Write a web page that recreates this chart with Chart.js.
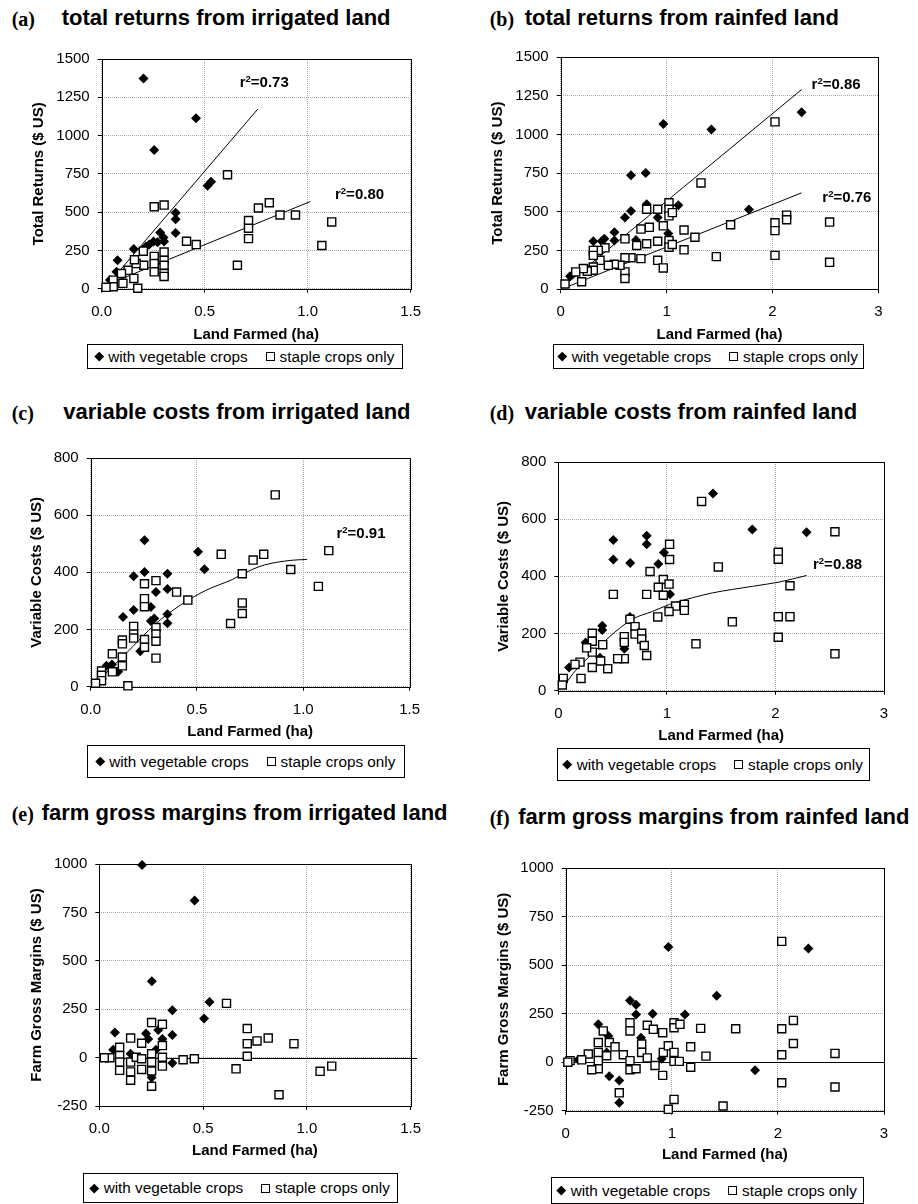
<!DOCTYPE html>
<html>
<head>
<meta charset="utf-8">
<script src="https://cdn.jsdelivr.net/npm/chart.js@4.4.1/dist/chart.umd.min.js"></script>
<style>
html,body{margin:0;padding:0;background:#fff;}
body{width:918px;height:1204px;position:relative;overflow:hidden;font-family:"Liberation Sans",Arial,sans-serif;color:#000;}
.pl{position:absolute;font-family:"Liberation Serif","Times New Roman",serif;font-weight:bold;font-size:20px;line-height:20px;white-space:nowrap;}
.pt{position:absolute;font-family:"Liberation Sans",Arial,sans-serif;font-weight:bold;font-size:22px;line-height:22px;white-space:nowrap;}
canvas{position:absolute;}
.lg{position:absolute;border:1px solid #000;box-sizing:border-box;display:flex;align-items:center;justify-content:center;font-size:15.3px;white-space:nowrap;background:#fff;}
.lg .it{display:flex;align-items:center;}
.lg .it + .it{margin-left:18px;}
.dm{display:inline-block;width:6.5px;height:6.5px;background:#000;transform:rotate(45deg);margin-right:6px;}
.sq{display:inline-block;width:9px;height:9px;border:1.3px solid #000;box-sizing:border-box;background:#fff;margin-right:5px;}
</style>
</head>
<body>
<script>
// ---------------- DATA ----------------
const seriesNames = ['with vegetable crops', 'staple crops only'];

// tick values / labels
const xTicksIrrigated = [0, 0.5, 1, 1.5];
const xLabelsIrrigated = ['0.0', '0.5', '1.0', '1.5'];
const xTicksRainfed = [0, 1, 2, 3];
const xLabelsRainfed = ['0', '1', '2', '3'];
const yTicksReturns = [0, 250, 500, 750, 1000, 1250, 1500];
const yLabelsReturns = ['0', '250', '500', '750', '1000', '1250', '1500'];
const yTicksCosts = [0, 200, 400, 600, 800];
const yLabelsCosts = ['0', '200', '400', '600', '800'];
const yTicksMargins = [-250, 0, 250, 500, 750, 1000];
const yLabelsMargins = ['-250', '0', '250', '500', '750', '1000'];

// (a) total returns, irrigated
const vegA_x = [0.203,0.458,0.255,0.514,0.531,0.359,0.359,0.359,0.284,0.300,0.303,0.271,0.252,0.231,0.215,0.156,0.077,0.072,0.040];
const vegA_y = [1373,1113,905,673,698,496,454,363,367,335,309,303,309,288,275,260,185,110,56];
const stapleA_x = [0.611,0.255,0.303,0.814,0.761,0.866,0.941,1.117,0.713,0.713,0.713,0.412,0.459,1.069,0.659,0.202,0.303,0.255,0.303,0.255,0.303,0.255,0.303,0.303,0.204,0.167,0.159,0.128,0.096,0.156,0.103,0.056,0.056,0.021,0.175];
const stapleA_y = [744,535,546,561,527,481,481,436,445,395,327,310,288,282,153,245,239,211,185,164,153,110,99,80,153,164,189,120,99,67,35,56,13,9,3];
const trendVegA_x = [0.048, 0.758];
const trendVegA_y = [56, 1173];
const trendStapleA_x = [0.04, 1.013];
const trendStapleA_y = [34, 569];
const r2A = [{text:'0.73', x:0.670, y:1320}, {text:'0.80', x:1.133, y:587}];

// (b) total returns, rainfed
const vegB_x = [0.970,1.423,2.276,0.664,0.803,1.778,1.111,0.812,0.664,0.607,0.916,1.016,0.507,0.507,0.412,0.387,0.308,0.711,0.088];
const vegB_y = [1068,1032,1143,736,751,515,543,549,506,463,463,361,368,315,326,310,310,319,85];
const stapleB_x = [2.024,1.325,1.023,1.023,1.023,1.055,0.812,0.916,0.969,0.837,0.758,1.165,1.268,0.607,0.718,0.812,0.916,1.023,1.023,1.054,1.165,0.758,0.916,0.969,0.664,0.607,0.607,0.607,0.560,0.507,0.450,0.371,0.418,0.355,0.308,0.308,0.308,0.308,0.251,0.214,0.142,0.198,0.041,1.605,1.470,2.024,2.024,2.024,2.134,2.134,2.540,2.540];
const stapleB_y = [1081,687,559,517,474,495,517,517,410,400,389,383,336,326,283,294,310,315,272,289,255,198,187,138,204,204,112,70,155,162,155,187,268,251,251,219,144,123,117,134,112,49,34,417,211,430,379,219,479,449,434,174];
const trendVegB_x = [0.079, 2.276];
const trendVegB_y = [49, 1290];
const trendStapleB_x = [0.079, 2.276];
const trendStapleB_y = [21, 623];
const r2B = [{text:'0.86', x:2.370, y:1294}, {text:'0.76', x:2.471, y:566}];

// (c) variable costs, irrigated
const vegC_x = [0.253,0.505,0.535,0.253,0.202,0.361,0.307,0.361,0.361,0.361,0.202,0.283,0.299,0.283,0.152,0.233,0.074,0.129,0.100];
const vegC_y = [512,472,411,401,386,395,331,342,253,222,268,279,239,230,244,124,73,52,78];
const stapleC_x = [0.868,1.120,0.614,0.814,0.764,0.941,0.713,1.071,0.253,0.307,0.404,0.457,0.253,0.253,0.713,0.713,0.658,0.202,0.202,0.202,0.307,0.307,0.307,0.307,0.253,0.253,0.149,0.149,0.149,0.149,0.102,0.102,0.051,0.051,0.051,0.023,0.175];
const stapleC_y = [671,476,463,463,443,410,395,351,360,371,331,303,308,280,293,256,221,211,184,170,207,184,159,100,165,138,163,150,104,73,115,52,55,40,21,12,3];
const curveC_x = [0.04,0.167,0.307,0.415,0.539,0.663,0.756,0.818,0.942,1.017];
const curveC_y = [25,117,221,282,336,374,409,426,442,445];
const r2C = [{text:'0.91', x:1.156, y:521}];

// (d) variable costs, rainfed
const vegD_x = [1.425,1.787,2.287,0.507,0.814,0.814,0.507,0.663,0.921,0.973,1.029,0.660,0.405,0.405,0.608,0.384,0.252,0.099];
const vegD_y = [690,564,554,527,542,512,459,447,443,483,337,258,227,212,147,115,169,81];
const stapleD_x = [1.320,2.548,1.025,1.025,2.026,2.026,1.474,0.845,0.967,1.020,0.921,0.967,0.507,0.814,2.134,1.081,1.161,1.161,1.020,0.916,0.660,2.026,2.134,1.603,2.026,2.548,1.268,0.707,0.707,0.768,0.768,0.792,0.814,0.608,0.608,0.608,0.547,0.455,0.409,0.313,0.313,0.313,0.261,0.313,0.390,0.200,0.154,0.209,0.046,0.037];
const stapleD_y = [662,556,512,459,484,460,433,417,389,373,362,334,337,337,367,296,302,281,277,258,250,259,259,241,187,129,164,224,198,201,181,158,123,189,169,112,112,77,161,201,173,135,150,81,104,100,92,43,43,20];
const curveD_x = [0.068,0.16,0.313,0.467,0.682,0.866,1.025,1.234,1.418,1.787,2.033,2.287];
const curveD_y = [25,71,129,187,250,277,302,325,342,365,380,403];
const r2D = [{text:'0.88', x:2.346, y:426}];

// (e) farm gross margins, irrigated
const vegE_x = [0.206,0.459,0.253,0.531,0.505,0.352,0.352,0.075,0.225,0.236,0.284,0.304,0.273,0.067,0.151,0.352,0.252];
const vegE_y = [995,811,395,287,202,245,117,130,125,96,142,96,40,40,20,-28,-103];
const stapleE_x = [0.613,0.713,0.713,0.713,0.760,0.814,0.938,0.659,0.866,1.064,1.120,0.252,0.304,0.151,0.204,0.304,0.098,0.098,0.098,0.098,0.051,0.024,0.151,0.151,0.151,0.178,0.204,0.204,0.252,0.252,0.252,0.252,0.304,0.304,0.404,0.458];
const stapleE_y = [280,150,72,7,86,101,72,-58,-192,-71,-44,181,172,101,74,62,53,11,-23,-66,-1,-1,-23,-74,-117,2,-6,-61,20,-23,-69,-148,2,-44,-11,-6];

// (f) farm gross margins, rainfed
const vegF_x = [0.968,2.287,1.423,1.785,0.606,0.663,0.663,0.820,1.124,0.307,0.402,0.710,0.386,0.119,0.905,0.411,0.505,0.505];
const vegF_y = [593,585,342,-42,317,296,245,249,245,195,135,126,50,12,17,-73,-94,-209];
const stapleF_x = [2.036,2.146,2.036,2.146,2.036,2.036,2.538,2.538,1.602,1.483,0.606,0.606,0.769,0.826,0.914,1.021,1.021,1.077,1.272,0.354,0.307,0.411,0.465,0.307,0.386,0.213,0.151,0.041,0.307,0.307,0.245,0.543,0.606,0.606,0.663,0.716,0.716,0.769,0.842,0.920,0.967,1.021,1.021,1.071,0.914,1.178,1.178,1.322,0.505,1.021,0.967,0.020];
const stapleF_y = [622,215,172,96,38,-106,45,-128,172,-226,203,161,190,169,152,203,177,195,174,161,101,101,79,50,33,42,12,8,8,-34,-39,38,8,-39,-34,93,50,22,-17,50,84,50,4,4,-68,79,-26,31,-158,-192,-243,0];

// ---------------- BUILD ----------------
const FONT = '"Liberation Sans", Arial, sans-serif';
Chart.defaults.font.family = FONT;
Chart.defaults.color = '#000';

function pts(xs, ys) { return xs.map((x, i) => ({x: x, y: ys[i]})); }

const panels = [
  {id:'a', title:'total returns from irrigated land', yTitle:'Total Returns ($ US)',
   veg:[vegA_x,vegA_y], staple:[stapleA_x,stapleA_y],
   lines:[[trendVegA_x,trendVegA_y],[trendStapleA_x,trendStapleA_y]], curved:false, r2:r2A,
   xT:xTicksIrrigated, xL:xLabelsIrrigated, yT:yTicksReturns, yL:yLabelsReturns,
   box:{L:101.7,T:56,R:415,B:288.7,yTitleX:39,xTitleY:335,col:0},
   head:{lx:11.7,tx:61.7,base:26}, legend:{l:87,t:344,w:316,h:25}},
  {id:'b', title:'total returns from rainfed land', yTitle:'Total Returns ($ US)',
   veg:[vegB_x,vegB_y], staple:[stapleB_x,stapleB_y],
   lines:[[trendVegB_x,trendVegB_y],[trendStapleB_x,trendStapleB_y]], curved:false, r2:r2B,
   xT:xTicksRainfed, xL:xLabelsRainfed, yT:yTicksReturns, yL:yLabelsReturns,
   box:{L:560.7,T:54.3,R:878.3,B:289.3,yTitleX:498.3,xTitleY:335,col:459},
   head:{lx:489.7,tx:524.7,base:26}, legend:{l:553,t:344,w:311,h:25}},
  {id:'c', title:'variable costs from irrigated land', yTitle:'Variable Costs ($ US)',
   veg:[vegC_x,vegC_y], staple:[stapleC_x,stapleC_y],
   lines:[[curveC_x,curveC_y]], curved:true, r2:r2C,
   xT:xTicksIrrigated, xL:xLabelsIrrigated, yT:yTicksCosts, yL:yLabelsCosts,
   box:{L:90.7,T:455,R:413.3,B:686.7,yTitleX:37,xTitleY:732,col:0},
   head:{lx:11.7,tx:63.3,base:419.3}, legend:{l:87,t:745,w:318,h:33}},
  {id:'d', title:'variable costs from rainfed land', yTitle:'Variable Costs ($ US)',
   veg:[vegD_x,vegD_y], staple:[stapleD_x,stapleD_y],
   lines:[[curveD_x,curveD_y]], curved:true, r2:r2D,
   xT:xTicksRainfed, xL:xLabelsRainfed, yT:yTicksCosts, yL:yLabelsCosts,
   box:{L:558.3,T:459.3,R:884,B:690.7,yTitleX:504,xTitleY:736,col:459},
   head:{lx:489.7,tx:524.7,base:419.3}, legend:{l:557,t:748,w:313,h:33}},
  {id:'e', title:'farm gross margins from irrigated land', yTitle:'Farm Gross Margins ($ US)',
   veg:[vegE_x,vegE_y], staple:[stapleE_x,stapleE_y],
   lines:[], curved:false, r2:[], zero:true, zeroExt:6,
   xT:xTicksIrrigated, xL:xLabelsIrrigated, yT:yTicksMargins, yL:yLabelsMargins,
   box:{L:99.3,T:861.7,R:415,B:1106,yTitleX:37,xTitleY:1151,col:0},
   head:{lx:11.7,tx:41.7,base:821}, legend:{l:83,t:1173,w:315,h:30}},
  {id:'f', title:'farm gross margins from rainfed land', yTitle:'Farm Gross Margins ($ US)',
   veg:[vegF_x,vegF_y], staple:[stapleF_x,stapleF_y],
   lines:[], curved:false, r2:[], zero:true, zeroExt:0,
   xT:xTicksRainfed, xL:xLabelsRainfed, yT:yTicksMargins, yL:yLabelsMargins,
   box:{L:565.7,T:865,R:884,B:1110.7,yTitleX:504,xTitleY:1155,col:459},
   head:{lx:489.7,tx:518.3,base:824.3}, legend:{l:551,t:1177,w:313,h:27}}
];

const framePlugin = {
  id: 'frame',
  beforeDatasetsDraw(chart, args, opts) {
    const {ctx, chartArea: a} = chart;
    const y = chart.scales.y;
    ctx.save();
    ctx.strokeStyle = '#000';
    ctx.lineWidth = 1;
    const l = Math.round(a.left), t = Math.round(a.top), r = Math.round(a.right), b = Math.round(a.bottom);
    ctx.strokeRect(l + 0.5, t + 0.5, r - l, b - t);
    if (opts.zero) {
      const py = Math.round(y.getPixelForValue(0)) + 0.5;
      ctx.beginPath();
      ctx.moveTo(l, py);
      ctx.lineTo(r + (opts.zeroExt || 0), py);
      ctx.stroke();
    }
    ctx.restore();
  },
  afterDatasetsDraw(chart, args, opts) {
    const {ctx} = chart;
    const xs = chart.scales.x, ys = chart.scales.y;
    (opts.labels || []).forEach(lb => {
      let px = xs.getPixelForValue(lb.x);
      const py = ys.getPixelForValue(lb.y);
      ctx.save();
      ctx.fillStyle = '#000';
      ctx.textAlign = 'left';
      ctx.textBaseline = 'alphabetic';
      ctx.font = 'bold 15px ' + FONT;
      ctx.fillText('r', px, py);
      px += ctx.measureText('r').width;
      ctx.font = 'bold 9.5px ' + FONT;
      ctx.fillText('2', px, py - 5);
      px += ctx.measureText('2').width;
      ctx.font = 'bold 15px ' + FONT;
      ctx.fillText('=' + lb.text, px, py);
      ctx.restore();
    });
  }
};

panels.forEach(p => {
  const bx = p.box;
  // headings
  const pl = document.createElement('div');
  pl.className = 'pl';
  pl.textContent = '(' + p.id + ')';
  pl.style.left = p.head.lx + 'px';
  pl.style.top = (p.head.base - 0.8375 * 20) + 'px';
  document.body.appendChild(pl);
  const pt = document.createElement('div');
  pt.className = 'pt';
  pt.textContent = p.title;
  pt.style.left = p.head.tx + 'px';
  pt.style.top = (p.head.base - 0.8465 * 22) + 'px';
  document.body.appendChild(pt);

  // legend
  const lg = document.createElement('div');
  lg.className = 'lg';
  lg.style.left = p.legend.l + 'px';
  lg.style.top = p.legend.t + 'px';
  lg.style.width = p.legend.w + 'px';
  lg.style.height = p.legend.h + 'px';
  lg.innerHTML = '<span class="it"><span class="dm"></span><span>' + seriesNames[0] + '</span></span>' +
                 '<span class="it"><span class="sq"></span><span>' + seriesNames[1] + '</span></span>';
  document.body.appendChild(lg);

  // canvas geometry
  const cl = bx.col;
  const ct = Math.floor(bx.T) - 14;
  const padTop = bx.T - ct;
  const Hx = bx.xTitleY - bx.B + 9;
  const cw = Math.ceil(bx.R - cl + 16);
  const padRight = cw - (bx.R - cl);
  const ch = Math.ceil(bx.B + Hx - ct);
  const padBottom = ch - (bx.B + Hx - ct);
  const yW = bx.L - cl;

  const cv = document.createElement('canvas');
  cv.width = cw; cv.height = ch;
  cv.style.left = cl + 'px';
  cv.style.top = ct + 'px';
  cv.style.width = cw + 'px';
  cv.style.height = ch + 'px';
  document.body.appendChild(cv);

  const datasets = [
    {label: seriesNames[1], data: pts(p.staple[0], p.staple[1]), order: 0,
     pointStyle: 'rect', pointRadius: 5.7, pointHoverRadius: 5.7,
     backgroundColor: '#fff', borderColor: '#000', borderWidth: 1.4, showLine: false, clip: false},
    {label: seriesNames[0], data: pts(p.veg[0], p.veg[1]), order: 1,
     pointStyle: 'rectRot', pointRadius: 5, pointHoverRadius: 5,
     backgroundColor: '#000', borderColor: '#000', borderWidth: 0, showLine: false, clip: false}
  ];
  p.lines.forEach(ln => {
    datasets.push({label: 'trend', data: pts(ln[0], ln[1]), order: 2, showLine: true,
      pointRadius: 0, borderColor: '#000', borderWidth: 1, fill: false,
      cubicInterpolationMode: p.curved ? 'monotone' : 'default', tension: 0});
  });

  new Chart(cv, {
    type: 'scatter',
    data: {datasets: datasets},
    plugins: [framePlugin],
    options: {
      responsive: false,
      animation: false,
      devicePixelRatio: 1,
      events: [],
      layout: {padding: {top: padTop, right: padRight, bottom: padBottom, left: 0}},
      plugins: {
        legend: {display: false},
        tooltip: {enabled: false},
        frame: {labels: p.r2, zero: !!p.zero, zeroExt: p.zeroExt || 0}
      },
      scales: {
        x: {
          type: 'linear', position: 'bottom',
          min: p.xT[0], max: p.xT[p.xT.length - 1],
          afterBuildTicks: s => { s.ticks = p.xT.map(v => ({value: v})); },
          afterFit: s => { s.height = Hx; },
          ticks: {callback: (v, i) => p.xL[i], font: {size: 15, family: FONT}, color: '#000',
                  padding: 10, maxRotation: 0, autoSkip: false},
          grid: {color: '#a8a8a8', lineWidth: 1, tickColor: '#000', tickLength: 4,
                 tickWidth: 1, tickBorderDash: [], drawTicks: true, drawOnChartArea: true},
          border: {display: false, dash: [1, 1]},
          title: {display: true, text: 'Land Farmed (ha)', color: '#000',
                  font: {size: 15, weight: 'bold', family: FONT}, padding: {top: 0, bottom: 0}}
        },
        y: {
          type: 'linear', position: 'left',
          min: p.yT[0], max: p.yT[p.yT.length - 1],
          afterBuildTicks: s => { s.ticks = p.yT.map(v => ({value: v})); },
          afterFit: s => { s.width = yW; },
          ticks: {callback: (v, i) => p.yL[i], font: {size: 15, family: FONT}, color: '#000',
                  padding: 8, autoSkip: false},
          grid: {color: '#a8a8a8', lineWidth: 1, tickColor: '#000', tickLength: 4,
                 tickWidth: 1, tickBorderDash: [], drawTicks: true, drawOnChartArea: true},
          border: {display: false, dash: [1, 1]},
          title: {display: true, text: p.yTitle, color: '#000',
                  font: {size: 15, weight: 'bold', family: FONT},
                  padding: {top: bx.yTitleX - cl - 9, bottom: 0}}
        }
      }
    }
  });
});
</script>
</body>
</html>
